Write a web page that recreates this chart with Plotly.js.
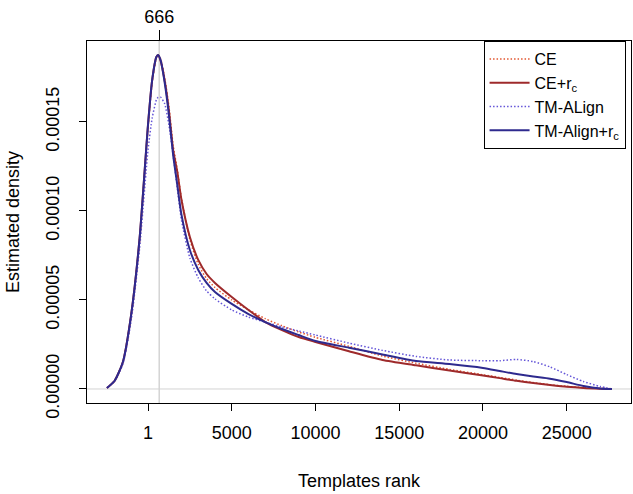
<!DOCTYPE html>
<html>
<head>
<meta charset="utf-8">
<script src="https://cdn.plot.ly/plotly-3.0.1.min.js"></script>
<style>html,body{margin:0;padding:0;background:#fff;}#chart{width:633px;height:494px;}</style>
</head>
<body>
<div id="chart"></div>
<script>
// Templates rank grid
const rank = [-2450, -2000, -1500, -1000, -500, 0, 250, 500, 600, 750, 1000, 1250, 1500, 1750, 2000, 2500, 3000, 3500, 4000, 5000, 6000, 7000, 8000, 9000, 10000, 12000, 14000, 16000, 18000, 20000, 21000, 22000, 23000, 24000, 25000, 26000, 27000, 27700];

// Estimated densities
const ce = [0.06e-5, 0.45e-5, 1.52e-5, 4.15e-5, 8.40e-5, 14.70e-5, 17.25e-5, 18.60e-5, 18.72e-5, 18.55e-5, 17.45e-5, 15.85e-5, 13.70e-5, 12.30e-5, 10.70e-5, 8.40e-5, 7.00e-5, 6.20e-5, 5.70e-5, 5.00e-5, 4.45e-5, 3.95e-5, 3.55e-5, 3.20e-5, 2.90e-5, 2.40e-5, 1.85e-5, 1.45e-5, 1.10e-5, 0.80e-5, 0.65e-5, 0.50e-5, 0.36e-5, 0.24e-5, 0.15e-5, 0.08e-5, 0.03e-5, 0];
const ceRc = [0.06e-5, 0.45e-5, 1.52e-5, 4.21e-5, 8.48e-5, 14.83e-5, 17.36e-5, 18.65e-5, 18.76e-5, 18.45e-5, 17.30e-5, 15.62e-5, 13.43e-5, 12.19e-5, 10.62e-5, 8.54e-5, 7.25e-5, 6.46e-5, 5.96e-5, 5.17e-5, 4.44e-5, 3.76e-5, 3.31e-5, 2.92e-5, 2.64e-5, 2.12e-5, 1.63e-5, 1.33e-5, 1.04e-5, 0.76e-5, 0.61e-5, 0.46e-5, 0.34e-5, 0.23e-5, 0.13e-5, 0.06e-5, 0.02e-5, 0];
const tm = [0.06e-5, 0.45e-5, 1.40e-5, 3.88e-5, 7.92e-5, 13.43e-5, 15.22e-5, 16.24e-5, 16.38e-5, 16.40e-5, 16.01e-5, 14.83e-5, 13.15e-5, 11.29e-5, 9.49e-5, 7.36e-5, 6.24e-5, 5.51e-5, 5.06e-5, 4.44e-5, 4.04e-5, 3.76e-5, 3.48e-5, 3.26e-5, 3.03e-5, 2.58e-5, 2.17e-5, 1.83e-5, 1.63e-5, 1.59e-5, 1.59e-5, 1.66e-5, 1.54e-5, 1.24e-5, 0.81e-5, 0.42e-5, 0.14e-5, 0];
const tmRc = [0.06e-5, 0.45e-5, 1.52e-5, 4.21e-5, 8.48e-5, 14.83e-5, 17.36e-5, 18.65e-5, 18.76e-5, 18.48e-5, 17.19e-5, 15.39e-5, 13.15e-5, 11.46e-5, 9.78e-5, 7.81e-5, 6.69e-5, 5.96e-5, 5.45e-5, 4.78e-5, 4.21e-5, 3.76e-5, 3.37e-5, 3.03e-5, 2.70e-5, 2.32e-5, 1.94e-5, 1.57e-5, 1.40e-5, 1.18e-5, 1.01e-5, 0.84e-5, 0.70e-5, 0.58e-5, 0.39e-5, 0.17e-5, 0.03e-5, 0];

const seriesNames = ['CE', 'CE+r<sub>c</sub>', 'TM-ALign', 'TM-Align+r<sub>c</sub>'];
const xTickVals = [1, 5000, 10000, 15000, 20000, 25000];
const xTickText = ['1', '5000', '10000', '15000', '20000', '25000'];
const yTickVals = [0, 0.00005, 0.0001, 0.00015];
const yTickText = ['0.00000', '0.00005', '0.00010', '0.00015'];
const markRank = [666];
const markText = ['666'];

const FONT = 'Liberation Sans, Arial, Helvetica, sans-serif';
const xRange = [-3642, 28838];

function tr(y, name, color, dash, width) {
  return {x: rank, y: y, name: name, type: 'scatter', mode: 'lines',
    line: {color: color, dash: dash, width: width, shape: 'spline', smoothing: 0.6}};
}

const data = [
  tr(ce, seriesNames[0], '#E2552F', '1.5px,2px', 1.5),
  tr(ceRc, seriesNames[1], '#9E2A2B', 'solid', 2),
  tr(tm, seriesNames[2], '#6455D8', '1.5px,2px', 1.5),
  tr(tmRc, seriesNames[3], '#2E2A8E', 'solid', 2)
];

const layout = {
  width: 633, height: 494, autosize: false,
  margin: {l: 87, r: 2, t: 41, b: 91},
  paper_bgcolor: '#fff', plot_bgcolor: '#fff',
  font: {family: FONT, size: 18, color: '#000'},
  showlegend: true,
  legend: {x: 0.99, y: 1, xanchor: 'right', yanchor: 'top', bgcolor: '#fff',
    bordercolor: '#000', borderwidth: 1, font: {family: FONT, size: 16, color: '#000'},
    tracegroupgap: 0, itemwidth: 40},
  xaxis: {range: xRange, tickmode: 'array', tickvals: xTickVals, ticktext: xTickText,
    ticks: 'outside', ticklen: 7, tickcolor: '#000', tickwidth: 1,
    showline: true, mirror: true, linecolor: '#000', linewidth: 1,
    showgrid: false, zeroline: false, ticklabelstandoff: 6,
    tickfont: {family: FONT, size: 18},
    title: {text: 'Templates rank', font: {family: FONT, size: 18}, standoff: 32}},
  xaxis2: {range: xRange, overlaying: 'x', side: 'top', tickmode: 'array',
    tickvals: markRank, ticktext: markText, ticks: 'outside', ticklen: 10,
    tickcolor: '#000', tickwidth: 1, showline: false, showgrid: false, zeroline: false,
    tickfont: {family: FONT, size: 18}},
  yaxis: {range: [-0.00000787, 0.0001955], tickmode: 'array', tickvals: yTickVals,
    ticktext: yTickText, tickangle: -90, ticks: 'outside', ticklen: 7, tickcolor: '#000',
    tickwidth: 1, showline: true, mirror: true, linecolor: '#000', linewidth: 1,
    showgrid: false, zeroline: false, ticklabelstandoff: 13,
    tickfont: {family: FONT, size: 18},
    title: {text: 'Estimated density', font: {family: FONT, size: 18}, standoff: 18}},
  shapes: [
    {type: 'line', xref: 'x', yref: 'paper', x0: markRank[0], x1: markRank[0], y0: 0, y1: 1,
      line: {color: '#BEBEBE', width: 1}, layer: 'below'},
    {type: 'line', xref: 'paper', yref: 'y', x0: 0, x1: 1, y0: 0, y1: 0,
      line: {color: '#D3D3D3', width: 1}, layer: 'below'}
  ]
};

// invisible trace to anchor the top axis
data.push({x: xRange, y: [0, 0], xaxis: 'x2', yaxis: 'y', mode: 'lines',
  line: {width: 0}, hoverinfo: 'skip', showlegend: false, opacity: 0});

Plotly.newPlot('chart', data, layout, {displayModeBar: false, staticPlot: true});
</script>
</body>
</html>
